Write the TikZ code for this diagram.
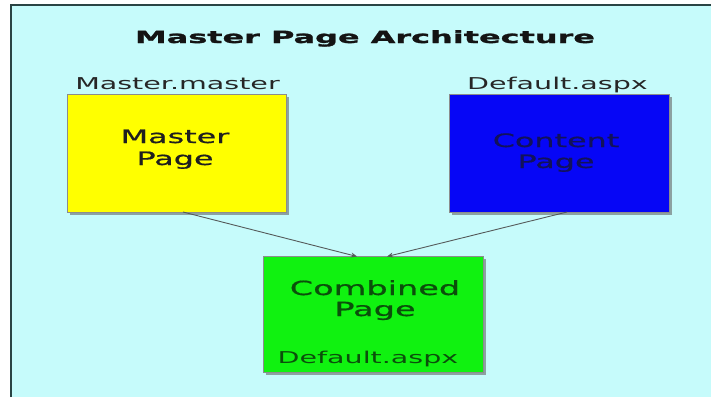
\documentclass[tikz,border=0pt]{standalone}
\usepackage{fontspec}
\setmainfont{DejaVu Sans}
\newfontfamily\widefont[FakeStretch=1.75]{DejaVu Sans}
\newfontfamily\widemed[FakeStretch=1.72,FakeBold=0.8]{DejaVu Sans}
\newfontfamily\widebold[FakeStretch=1.9,FakeBold=1.6]{DejaVu Sans Bold}
\usetikzlibrary{arrows.meta,shadows}
\definecolor{bgcyan}{HTML}{C6FBFB}
\definecolor{framecol}{HTML}{2A4444}
\definecolor{ycol}{HTML}{FFFF00}
\definecolor{bcol}{HTML}{0606F6}
\definecolor{gcol}{HTML}{10F210}
\definecolor{navytext}{HTML}{12125A}
\definecolor{greentext}{HTML}{0B4F0B}
\definecolor{arrowcol}{HTML}{555A5A}
\tikzset{
  pagebox/.style={draw=black!45, line width=0.5pt, minimum width=#1, inner sep=0pt,
    drop shadow={shadow xshift=3pt, shadow yshift=-3pt, fill=black!60, opacity=0.6}},
  boxtext/.style={anchor=base, inner sep=0pt, font=\widemed\fontsize{18.5}{22}\selectfont},
  labeltext/.style={anchor=base, inner sep=0pt, text=black!85, font=\widefont\fontsize{16.3}{19}\selectfont},
  link/.style={draw=arrowcol, line width=0.9pt, -{Stealth[length=6pt,width=5pt]}}
}
\begin{document}
\begin{tikzpicture}[x=1pt,y=-1pt]
\useasboundingbox (0,0) rectangle (711,402);
\fill[white] (0,0) rectangle (711,402);
\fill[bgcyan] (10,5) rectangle (711,397);
\draw[framecol, line width=2.5pt] (11.2,397) -- (11.2,5.2) -- (711,5.2);

\node[anchor=base, inner sep=0pt, font=\widebold\fontsize{16.8}{20}\selectfont, text=black!92] (title) at (365,43) {Master Page Architecture};

\node[pagebox=219pt, minimum height=118pt, fill=ycol] (master) at (176.5,153) {};
\node[pagebox=220pt, minimum height=118pt, fill=bcol] (content) at (559,153) {};
\node[pagebox=220pt, minimum height=116pt, fill=gcol] (combined) at (373,314) {};

\node[labeltext] (mlabel) at (177.5,89) {Master.master};
\node[labeltext] (clabel) at (557.5,89) {Default.aspx};

\node[boxtext, text=black!88] (m1) at (175,143) {Master};
\node[boxtext, text=black!88] (m2) at (175,165) {Page};
\node[boxtext, text=navytext] (c1) at (556,147) {Content};
\node[boxtext, text=navytext] (c2) at (556,168) {Page};
\node[boxtext, text=greentext, font=\widemed\fontsize{19.5}{23}\selectfont] (g1) at (375,295) {Combined};
\node[boxtext, text=greentext, font=\widemed\fontsize{19.5}{23}\selectfont] (g2) at (375,316) {Page};
\node[labeltext, text=greentext] (g3) at (368,363) {Default.aspx};

\coordinate (ma) at (183,212);
\coordinate (ca) at (567,212);
\draw[link] (ma) -- (357,256.5);
\draw[link] (ca) -- (387,256.5);
\end{tikzpicture}
\end{document}
